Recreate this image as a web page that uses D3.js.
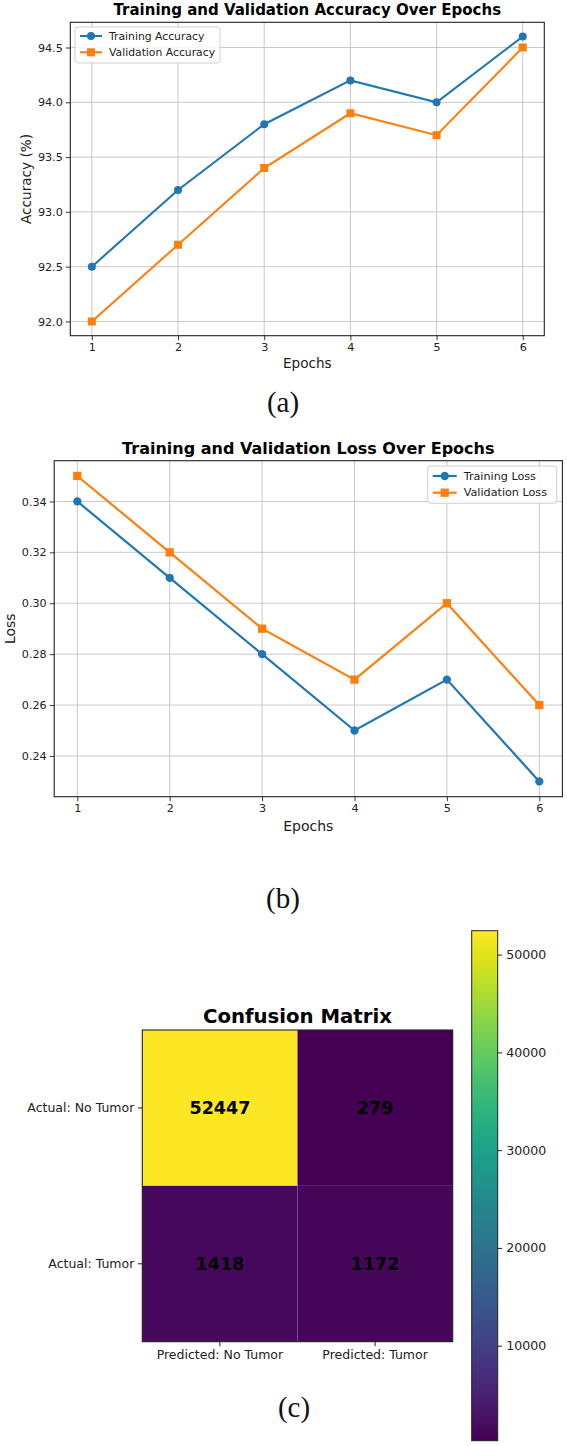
<!DOCTYPE html>
<html>
<head>
<meta charset="utf-8">
<script src="https://cdn.jsdelivr.net/npm/d3@7.9.0/dist/d3.min.js"></script>
<style>
  html, body { margin: 0; padding: 0; background: #fff; }
  svg { display: block; font-family: "DejaVu Sans", sans-serif; }
  .panel-label { font-family: "Liberation Serif", "Times New Roman", serif; }
</style>
</head>
<body>
<svg id="fig" width="567" height="1446"></svg>
<script>
// data
const epochs = [1, 2, 3, 4, 5, 6];
const trainAcc = [92.5, 93.2, 93.8, 94.2, 94.0, 94.6];
const valAcc = [92.0, 92.7, 93.4, 93.9, 93.7, 94.5];
const trainLoss = [0.34, 0.31, 0.28, 0.25, 0.27, 0.23];
const valLoss = [0.35, 0.32, 0.29, 0.27, 0.30, 0.26];
const accTicks = [92.0, 92.5, 93.0, 93.5, 94.0, 94.5];
const lossTicks = [0.24, 0.26, 0.28, 0.30, 0.32, 0.34];

const cmRows = ["Actual: No Tumor", "Actual: Tumor"];
const cmCols = ["Predicted: No Tumor", "Predicted: Tumor"];
const cmValues = [[52447, 279], [1418, 1172]];
const cbarTicks = [10000, 20000, 30000, 40000, 50000];

const BLUE = "#1f77b4", ORANGE = "#ff7f0e";
const svg = d3.select("#fig");
svg.append("rect").attr("width", 567).attr("height", 1446).attr("fill", "#fff");

function lineChart(cfg) {
  const { box, xDomain, yDomain, yTicks, yFmt, series, title, yLabel, fs, legend } = cfg;
  const g = svg.append("g");
  const x = d3.scaleLinear().domain(xDomain).range([box.left, box.right]);
  const y = d3.scaleLinear().domain(yDomain).range([box.bottom, box.top]);

  // grid
  g.append("g").selectAll("line").data(epochs).join("line")
    .attr("x1", d => x(d)).attr("x2", d => x(d))
    .attr("y1", box.top).attr("y2", box.bottom)
    .attr("stroke", "#c9c9c9").attr("stroke-width", 1);
  g.append("g").selectAll("line").data(yTicks).join("line")
    .attr("x1", box.left).attr("x2", box.right)
    .attr("y1", d => y(d)).attr("y2", d => y(d))
    .attr("stroke", "#c9c9c9").attr("stroke-width", 1);

  // axes
  const xa = g.append("g").attr("transform", `translate(0,${box.bottom})`)
    .call(d3.axisBottom(x).tickValues(epochs).tickFormat(d3.format("d")).tickSize(4.5).tickPadding(3).tickSizeOuter(0));
  const ya = g.append("g").attr("transform", `translate(${box.left},0)`)
    .call(d3.axisLeft(y).tickValues(yTicks).tickFormat(yFmt).tickSize(4.5).tickPadding(3).tickSizeOuter(0));
  [xa, ya].forEach(a => {
    a.select(".domain").remove();
    a.selectAll("line").attr("stroke", "#222").attr("stroke-width", 0.9);
    a.selectAll("text").attr("fill", "#222").style("font-size", fs.tick + "px").style("font-family", "DejaVu Sans");
  });

  g.append("rect").attr("x", box.left).attr("y", box.top)
    .attr("width", box.right - box.left).attr("height", box.bottom - box.top)
    .attr("fill", "none").attr("stroke", "#222").attr("stroke-width", 1.1);

  // lines + markers
  series.forEach(s => {
    const pts = epochs.map((e, i) => [e, s.values[i]]);
    g.append("path").datum(pts)
      .attr("d", d3.line().x(d => x(d[0])).y(d => y(d[1])))
      .attr("fill", "none").attr("stroke", s.color).attr("stroke-width", fs.lw);
    const m = g.append("g").selectAll("*").data(pts);
    if (s.marker === "o") {
      m.join("circle").attr("cx", d => x(d[0])).attr("cy", d => y(d[1]))
        .attr("r", fs.ms / 2).attr("fill", s.color);
    } else {
      m.join("rect").attr("x", d => x(d[0]) - fs.ms / 2).attr("y", d => y(d[1]) - fs.ms / 2)
        .attr("width", fs.ms).attr("height", fs.ms).attr("fill", s.color);
    }
  });

  // title and labels
  g.append("text").attr("x", (box.left + box.right) / 2).attr("y", box.top - 7)
    .attr("text-anchor", "middle").style("font-weight", "bold").style("font-size", fs.title + "px")
    .text(title);
  g.append("text").attr("x", x(3.5)).attr("y", cfg.xLabelY)
    .attr("text-anchor", "middle").attr("dominant-baseline", "central").style("font-size", fs.label + "px")
    .attr("fill", "#222").text("Epochs");
  g.append("text").attr("transform", `translate(${cfg.yLabelX},${(box.top + box.bottom) / 2}) rotate(-90)`)
    .attr("text-anchor", "middle").attr("dominant-baseline", "central").style("font-size", fs.label + "px")
    .attr("fill", "#222").text(yLabel);

  // legend
  const lg = g.append("g");
  lg.append("rect").attr("x", legend.x).attr("y", legend.y).attr("width", legend.w).attr("height", legend.h)
    .attr("rx", 3).attr("fill", "#fff").attr("fill-opacity", 0.85).attr("stroke", "#d0d0d0");
  series.forEach((s, i) => {
    const cy = legend.y + legend.row0 + i * legend.dy;
    const hx = legend.x + 5;
    lg.append("line").attr("x1", hx).attr("x2", hx + legend.hw).attr("y1", cy).attr("y2", cy)
      .attr("stroke", s.color).attr("stroke-width", fs.lw);
    const mx = hx + legend.hw / 2;
    if (s.marker === "o") lg.append("circle").attr("cx", mx).attr("cy", cy).attr("r", fs.ms / 2).attr("fill", s.color);
    else lg.append("rect").attr("x", mx - fs.ms / 2).attr("y", cy - fs.ms / 2).attr("width", fs.ms).attr("height", fs.ms).attr("fill", s.color);
    lg.append("text").attr("x", hx + legend.hw + 7).attr("y", cy).attr("dominant-baseline", "central")
      .style("font-size", fs.legend + "px").attr("fill", "#222").text(s.name);
  });
}

lineChart({
  box: { left: 70.3, right: 544.3, top: 22.3, bottom: 335.7 },
  xDomain: [0.75, 6.25], yDomain: [91.87, 94.73], yTicks: accTicks, yFmt: d3.format(".1f"),
  series: [
    { name: "Training Accuracy", values: trainAcc, color: BLUE, marker: "o" },
    { name: "Validation Accuracy", values: valAcc, color: ORANGE, marker: "s" }
  ],
  title: "Training and Validation Accuracy Over Epochs", yLabel: "Accuracy (%)",
  fs: { tick: 11.2, label: 13.6, title: 15, legend: 10.8, lw: 2.1, ms: 8 },
  xLabelY: 363.3, yLabelX: 26,
  legend: { x: 75, y: 27, w: 145, h: 36, row0: 9, dy: 16.3, hw: 22 }
});

lineChart({
  box: { left: 54.2, right: 562.4, top: 460.7, bottom: 796.7 },
  xDomain: [0.75, 6.25], yDomain: [0.224, 0.356], yTicks: lossTicks, yFmt: d3.format(".2f"),
  series: [
    { name: "Training Loss", values: trainLoss, color: BLUE, marker: "o" },
    { name: "Validation Loss", values: valLoss, color: ORANGE, marker: "s" }
  ],
  title: "Training and Validation Loss Over Epochs", yLabel: "Loss",
  fs: { tick: 11.2, label: 14, title: 16, legend: 11.2, lw: 2.2, ms: 8.3 },
  xLabelY: 825.7, yLabelX: 10,
  legend: { x: 427.7, y: 466, w: 129, h: 37.3, row0: 10, dy: 16.7, hw: 24 }
});

// confusion matrix
const cm = svg.append("g");
const cx = d3.scaleBand().domain(cmCols).range([142.3, 452.7]);
const cy = d3.scaleBand().domain(cmRows).range([1030, 1341.7]);
const flat = [];
cmRows.forEach((r, i) => cmCols.forEach((c, j) => flat.push({ r, c, v: cmValues[i][j] })));
const vmin = d3.min(flat, d => d.v), vmax = d3.max(flat, d => d.v);
const color = d3.scaleSequential(d3.interpolateViridis).domain([vmin, vmax]);

cm.selectAll("rect.cell").data(flat).join("rect").attr("class", "cell")
  .attr("x", d => cx(d.c)).attr("y", d => cy(d.r))
  .attr("width", cx.bandwidth()).attr("height", cy.bandwidth())
  .attr("fill", d => color(d.v));
cm.selectAll("text.val").data(flat).join("text").attr("class", "val")
  .attr("x", d => cx(d.c) + cx.bandwidth() / 2).attr("y", d => cy(d.r) + cy.bandwidth() / 2)
  .attr("text-anchor", "middle").attr("dominant-baseline", "central")
  .style("font-weight", "bold").style("font-size", "17.5px").attr("fill", "#000")
  .text(d => d.v);
cm.append("rect").attr("x", 142.3).attr("y", 1030).attr("width", 452.7 - 142.3).attr("height", 1341.7 - 1030)
  .attr("fill", "none").attr("stroke", "#222").attr("stroke-width", 1.1);

const cmx = cm.append("g").attr("transform", "translate(0,1341.7)")
  .call(d3.axisBottom(cx).tickSize(4.5).tickPadding(3.5).tickSizeOuter(0));
const cmy = cm.append("g").attr("transform", "translate(142.3,0)")
  .call(d3.axisLeft(cy).tickSize(4.5).tickPadding(3.5).tickSizeOuter(0));
[cmx, cmy].forEach(a => {
  a.select(".domain").remove();
  a.selectAll("line").attr("stroke", "#222");
  a.selectAll("text").attr("fill", "#222").style("font-size", "12.5px").style("font-family", "DejaVu Sans");
});
cm.append("text").attr("x", 297.5).attr("y", 1022.7).attr("text-anchor", "middle")
  .style("font-weight", "bold").style("font-size", "19.7px").text("Confusion Matrix");

// colorbar
const cb = svg.append("g");
const cbTop = 930.7, cbBottom = 1440.7, cbLeft = 471.7, cbRight = 497.7;
const cbScale = d3.scaleLinear().domain([vmin, vmax]).range([cbBottom, cbTop]);
const grad = svg.append("defs").append("linearGradient").attr("id", "viridis")
  .attr("x1", 0).attr("y1", 1).attr("x2", 0).attr("y2", 0);
d3.range(0, 1.0001, 0.05).forEach(t => {
  grad.append("stop").attr("offset", t).attr("stop-color", d3.interpolateViridis(t));
});
cb.append("rect").attr("x", cbLeft).attr("y", cbTop).attr("width", cbRight - cbLeft).attr("height", cbBottom - cbTop)
  .attr("fill", "url(#viridis)").attr("stroke", "#222").attr("stroke-width", 1);
const cba = cb.append("g").attr("transform", `translate(${cbRight},0)`)
  .call(d3.axisRight(cbScale).tickValues(cbarTicks).tickFormat(d3.format("d")).tickSize(4.5).tickPadding(4));
cba.select(".domain").remove();
cba.selectAll("line").attr("stroke", "#222");
cba.selectAll("text").attr("fill", "#222").style("font-size", "12.6px").style("font-family", "DejaVu Sans");

// panel labels
const panels = [["(a)", 283, 402], ["(b)", 283, 898], ["(c)", 294, 1407]];
svg.selectAll("text.panel-label").data(panels).join("text").attr("class", "panel-label")
  .attr("x", d => d[1]).attr("y", d => d[2])
  .attr("text-anchor", "middle").attr("dominant-baseline", "central")
  .style("font-size", "29px").attr("fill", "#111").text(d => d[0]);
</script>
</body>
</html>
